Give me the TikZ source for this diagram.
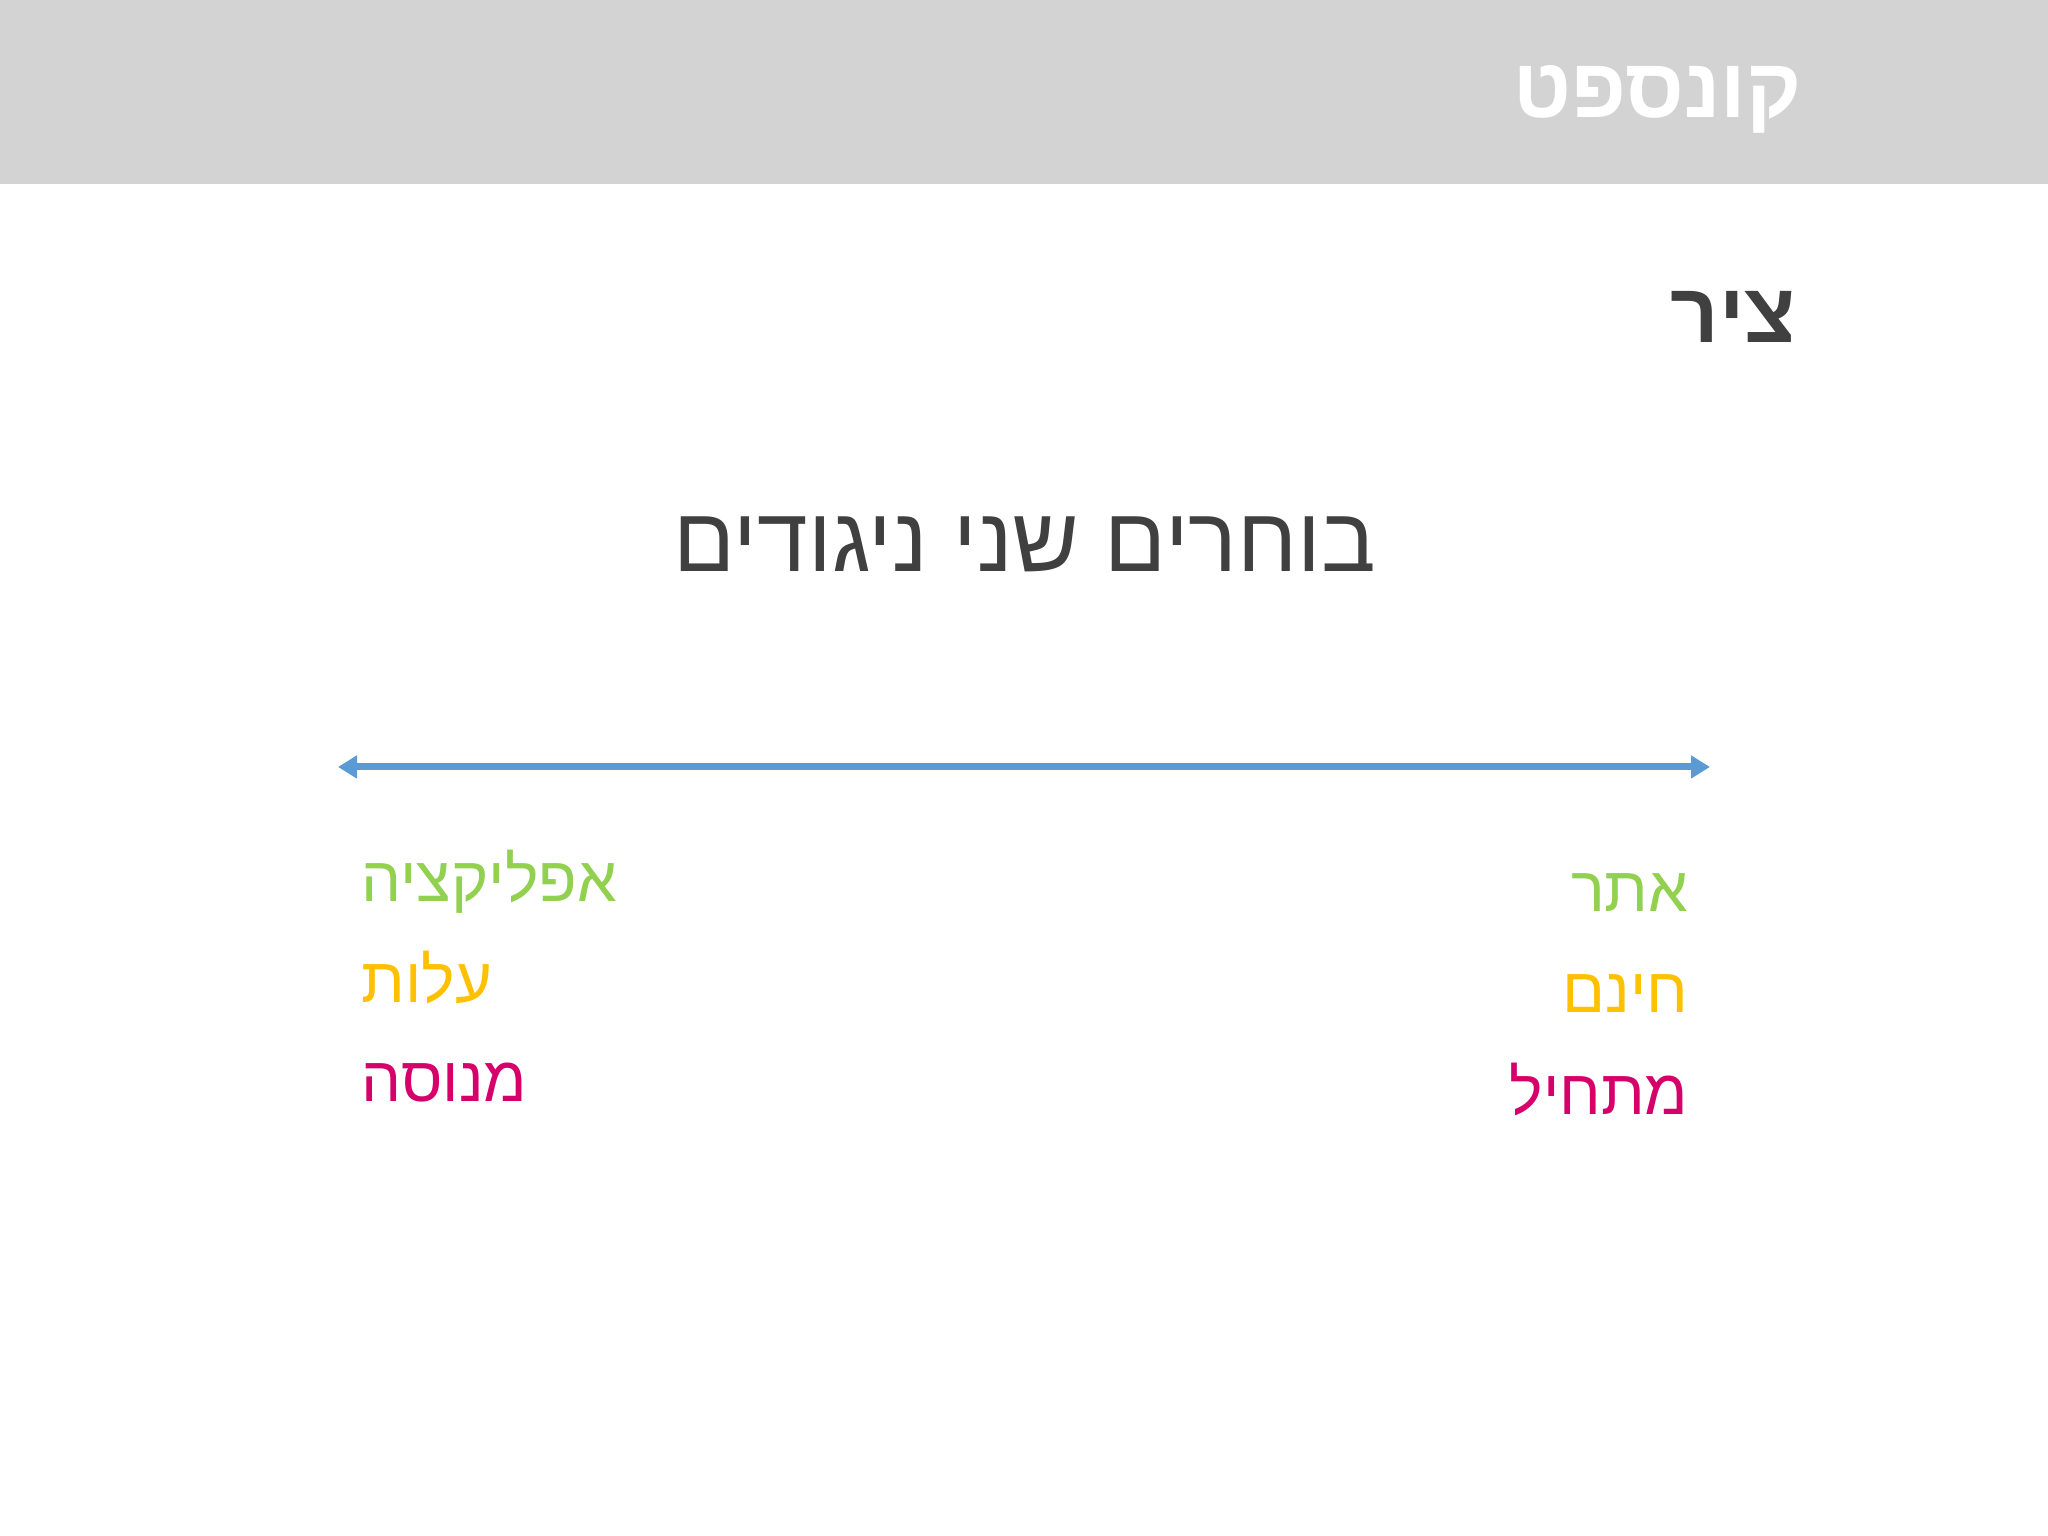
\documentclass[tikz,border=0pt]{standalone}
\usepackage{fontspec}
\usetikzlibrary{arrows.meta}
\TeXXeTstate=1
\newfontfamily\hebfont[Script=Hebrew]{Liberation Sans}
\definecolor{headgray}{HTML}{D3D3D3}
\definecolor{darktext}{HTML}{404040}
\definecolor{lineblue}{HTML}{5B9BD5}
\definecolor{optgreen}{HTML}{92D050}
\definecolor{optyellow}{HTML}{FFC000}
\definecolor{optpink}{HTML}{D6006B}
\begin{document}
\begin{tikzpicture}[
  heb/.style={inner sep=0pt, font=\hebfont\fontsize{18}{22}\selectfont},
  lefttxt/.style={heb, anchor=base west},
  righttxt/.style={heb, anchor=base east}]
\useasboundingbox (0,0) rectangle (20.48,15.36);
\fill[headgray] (0,13.52) rectangle (20.48,15.36);
\node[inner sep=0pt, anchor=base east, white, font=\hebfont\bfseries\fontsize{24}{29}\selectfont] (title) at (18.02,14.18){\beginR קונספט\endR};
\node[inner sep=0pt, anchor=base east, darktext, font=\hebfont\bfseries\fontsize{24}{29}\selectfont] (axis) at (17.97,11.93){\beginR ציר\endR};
\node[inner sep=0pt, anchor=base, darktext, font=\hebfont\fontsize{26}{31}\selectfont] (pick) at (10.25,9.64){\beginR בוחרים שני ניגודים\endR};
\coordinate (lend) at (3.38,7.69);
\coordinate (rend) at (17.10,7.69);
\draw[lineblue, line width=2pt, {Triangle[length=0.19cm,width=0.22cm]}-{Triangle[length=0.19cm,width=0.22cm]}] (lend) -- (rend);
\node[lefttxt, optgreen] (app) at (3.61,6.34){\beginR אפליקציה\endR};
\node[lefttxt, optyellow] (cost) at (3.61,5.33){\beginR עלות\endR};
\node[lefttxt, optpink] (pro) at (3.61,4.34){\beginR מנוסה\endR};
\node[righttxt, optgreen] (site) at (16.89,6.24){\beginR אתר\endR};
\node[righttxt, optyellow] (free) at (16.89,5.23){\beginR חינם\endR};
\node[righttxt, optpink] (novice) at (16.89,4.21){\beginR מתחיל\endR};
\end{tikzpicture}
\end{document}
